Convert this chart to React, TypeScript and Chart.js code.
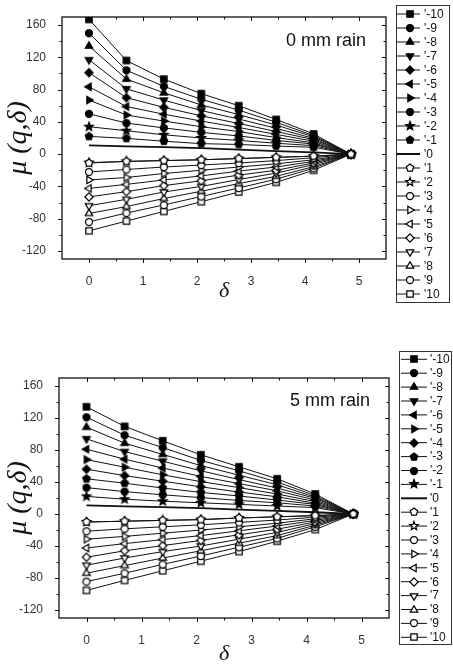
import React, { useEffect, useRef } from 'react';
import { Chart, registerables } from 'chart.js';

Chart.register(...registerables);

// ---------- data ----------
const deltaValues = [0, 0.693, 1.386, 2.079, 2.773, 3.466, 4.159, 4.852];
const xTickValues = [0, 1, 2, 3, 4, 5];
const yTickValues = [-120, -80, -40, 0, 40, 80, 120, 160];
const qLabels = ["'-10", "'-9", "'-8", "'-7", "'-6", "'-5", "'-4", "'-3", "'-2", "'-1", "'0",
  "'1", "'2", "'3", "'4", "'5", "'6", "'7", "'8", "'9", "'10"];
const panelTitles = ['0 mm rain', '5 mm rain'];

// 0 mm rain
const rain0_qm10 = [167, 116, 93, 75, 60, 43, 25, 0];
const rain0_qm9 = [150, 104, 84, 68, 54.5, 39.5, 23, 0];
const rain0_qm8 = [134, 93, 76, 61, 49, 36, 21.5, 0];
const rain0_qm7 = [117, 81, 67, 54, 43.5, 32, 19.5, 0];
const rain0_qm6 = [101, 70, 58, 47.5, 38, 28, 18, 0];
const rain0_qm5 = [83.5, 59, 49.5, 41, 33, 24.5, 16, 0];
const rain0_qm4 = [67, 48.5, 41, 34, 28, 20.5, 14, 0];
const rain0_qm3 = [50, 38.5, 32.5, 27, 22.5, 17, 12.5, 0];
const rain0_qm2 = [34, 29, 24, 20, 17, 13.5, 10.5, 0];
const rain0_qm1 = [22, 19.5, 16, 13, 12, 10, 8.5, 0];
const rain0_q0 = [10.8, 9.7, 8.7, 7.4, 5.5, 3.8, 2.2, 0];
const rain0_q1 = [-11, -9, -8, -7, -5.5, -4, -2.5, 0];
const rain0_q2 = [-10.5, -9, -8, -7, -5.5, -4, -2.5, 0];
const rain0_q3 = [-22, -19, -16, -13.5, -11, -8, -4.5, 0];
const rain0_q4 = [-32, -29, -24, -20, -16, -12, -7, 0];
const rain0_q5 = [-42.5, -37.5, -32, -27, -21, -16, -9, 0];
const rain0_q6 = [-53, -46.5, -39, -33, -26, -20, -11, 0];
const rain0_q7 = [-64, -56, -47, -40, -31.5, -23.5, -13, 0];
const rain0_q8 = [-73.5, -65, -55, -46, -36.5, -27.5, -15.5, 0];
const rain0_q9 = [-84, -73, -63, -52.5, -42, -31, -17.5, 0];
const rain0_q10 = [-95, -83, -71, -59, -47, -35, -20, 0];

// 5 mm rain
const rain5_qm10 = [134, 109.5, 91.5, 74, 59, 44, 25, 0];
const rain5_qm9 = [121, 98.5, 83, 67, 54, 40, 23, 0];
const rain5_qm8 = [108.5, 88.5, 74.5, 60.5, 48.5, 36.5, 21, 0];
const rain5_qm7 = [94, 78, 66, 54, 43, 32.5, 19.5, 0];
const rain5_qm6 = [81, 68.5, 57.5, 47, 38, 29, 17.5, 0];
const rain5_qm5 = [68, 58.5, 49, 40.5, 33, 25, 15.5, 0];
const rain5_qm4 = [56, 48, 41, 34, 27.5, 21.5, 13.5, 0];
const rain5_qm3 = [44, 38.5, 32.5, 27, 22.5, 17.5, 12, 0];
const rain5_qm2 = [33, 28, 24, 20.5, 17, 14, 10, 0];
const rain5_qm1 = [22, 18.5, 16, 14, 12, 10, 8, 0];
const rain5_q0 = [10.8, 9.6, 8.5, 7.3, 5.5, 3.8, 2.2, 0];
const rain5_q1 = [-10, -9, -8, -7, -5, -3.5, -2, 0];
const rain5_q2 = [-10, -9, -8, -7, -5, -3.5, -2, 0];
const rain5_q3 = [-21.5, -18.5, -16, -13.5, -10.5, -7.5, -4, 0];
const rain5_q4 = [-31.5, -28, -24, -20, -16, -11.5, -6, 0];
const rain5_q5 = [-42.5, -37, -32, -27, -21, -15, -8, 0];
const rain5_q6 = [-54, -46, -39.5, -33, -26, -19, -10, 0];
const rain5_q7 = [-64, -55, -47, -40, -31.5, -23, -12, 0];
const rain5_q8 = [-74, -64.5, -55, -46, -36.5, -27, -14, 0];
const rain5_q9 = [-84.5, -74, -63, -52.5, -41.5, -30.5, -16, 0];
const rain5_q10 = [-95.5, -83, -71, -59, -47, -34, -19.5, 0];

const rain0Series = [rain0_qm10, rain0_qm9, rain0_qm8, rain0_qm7, rain0_qm6, rain0_qm5, rain0_qm4,
  rain0_qm3, rain0_qm2, rain0_qm1, rain0_q0, rain0_q1, rain0_q2, rain0_q3, rain0_q4, rain0_q5,
  rain0_q6, rain0_q7, rain0_q8, rain0_q9, rain0_q10];
const rain5Series = [rain5_qm10, rain5_qm9, rain5_qm8, rain5_qm7, rain5_qm6, rain5_qm5, rain5_qm4,
  rain5_qm3, rain5_qm2, rain5_qm1, rain5_q0, rain5_q1, rain5_q2, rain5_q3, rain5_q4, rain5_q5,
  rain5_q6, rain5_q7, rain5_q8, rain5_q9, rain5_q10];

// ---------- styles ----------
const rain0Markers = ['square', 'circle', 'triUp', 'triDown', 'diamond', 'triLeft', 'triRight', 'circle',
  'star', 'pentagon', null, 'pentagon', 'star', 'circle', 'triRight', 'triLeft', 'diamond', 'triDown',
  'triUp', 'circle', 'square'];
const rain5Markers = ['square', 'circle', 'triUp', 'triDown', 'triLeft', 'triRight', 'diamond', 'pentagon',
  'circle', 'star', null, 'pentagon', 'star', 'circle', 'triRight', 'triLeft', 'diamond', 'triDown',
  'triUp', 'circle', 'square'];

const SANS = "'Liberation Sans', Arial, sans-serif";
const SERIF = "'Liberation Serif', 'Times New Roman', serif";
const INK = '#111';

function makeMarker(shape: string, filled: boolean): HTMLCanvasElement {
  const size = 12;
  const c = document.createElement('canvas');
  c.width = size;
  c.height = size;
  const ctx = c.getContext('2d') as CanvasRenderingContext2D;
  const cx = size / 2;
  const cy = size / 2;
  const poly = (n: number, r: number, startDeg: number) => {
    for (let k = 0; k < n; k++) {
      const a = ((startDeg + (k * 360) / n) * Math.PI) / 180;
      const px = cx + r * Math.cos(a);
      const py = cy + r * Math.sin(a);
      if (k === 0) ctx.moveTo(px, py);
      else ctx.lineTo(px, py);
    }
    ctx.closePath();
  };
  ctx.beginPath();
  switch (shape) {
    case 'square':
      ctx.rect(cx - 3.2, cy - 3.2, 6.4, 6.4);
      break;
    case 'circle':
      ctx.arc(cx, cy, 3.5, 0, Math.PI * 2);
      break;
    case 'triUp':
      poly(3, 4.3, -90);
      break;
    case 'triDown':
      poly(3, 4.3, 90);
      break;
    case 'triLeft':
      poly(3, 4.3, 180);
      break;
    case 'triRight':
      poly(3, 4.3, 0);
      break;
    case 'diamond':
      poly(4, 4.1, -90);
      break;
    case 'pentagon':
      poly(5, 3.9, -90);
      break;
    case 'star':
      for (let k = 0; k < 10; k++) {
        const r = k % 2 === 0 ? 4.5 : 1.9;
        const a = ((-90 + k * 36) * Math.PI) / 180;
        const px = cx + r * Math.cos(a);
        const py = cy + r * Math.sin(a);
        if (k === 0) ctx.moveTo(px, py);
        else ctx.lineTo(px, py);
      }
      ctx.closePath();
      break;
  }
  ctx.fillStyle = filled ? '#000' : '#fff';
  ctx.fill();
  ctx.strokeStyle = '#000';
  ctx.lineWidth = 1.25;
  ctx.stroke();
  return c;
}

const framePlugin = {
  id: 'frameTicks',
  afterDraw(chart: any) {
    const { ctx, chartArea } = chart;
    const { left, right, top, bottom } = chartArea;
    const xs = chart.scales.x;
    const ys = chart.scales.y;
    ctx.save();
    ctx.strokeStyle = INK;
    ctx.lineWidth = 1.3;
    ctx.strokeRect(left, top, right - left, bottom - top);
    ctx.lineWidth = 1;
    ctx.beginPath();
    const xMinor = [0.5, 1.5, 2.5, 3.5, 4.5];
    for (const v of xTickValues) {
      const p = Math.round(xs.getPixelForValue(v)) + 0.5;
      ctx.moveTo(p, bottom); ctx.lineTo(p, bottom + 4);
      ctx.moveTo(p, top); ctx.lineTo(p, top + 4);
    }
    for (const v of xMinor) {
      const p = Math.round(xs.getPixelForValue(v)) + 0.5;
      ctx.moveTo(p, bottom); ctx.lineTo(p, bottom + 2.5);
      ctx.moveTo(p, top); ctx.lineTo(p, top + 2.5);
    }
    const yMinor = [-100, -60, -20, 20, 60, 100, 140];
    for (const v of yTickValues) {
      const p = Math.round(ys.getPixelForValue(v)) + 0.5;
      ctx.moveTo(left - 4, p); ctx.lineTo(left, p);
      ctx.moveTo(right - 4, p); ctx.lineTo(right, p);
    }
    for (const v of yMinor) {
      const p = Math.round(ys.getPixelForValue(v)) + 0.5;
      ctx.moveTo(left - 2.5, p); ctx.lineTo(left, p);
      ctx.moveTo(right - 2.5, p); ctx.lineTo(right, p);
    }
    ctx.stroke();
    ctx.restore();
  },
};

const panelTextPlugin = {
  id: 'panelText',
  afterDraw(chart: any, _args: any, opts: any) {
    const { ctx } = chart;
    ctx.save();
    ctx.font = `18px ${SANS}`;
    ctx.fillStyle = INK;
    ctx.textBaseline = 'alphabetic';
    ctx.textAlign = 'left';
    ctx.fillText(opts.text, opts.x, opts.y);
    ctx.restore();
  },
};

const boxLegendPlugin = {
  id: 'boxLegend',
  afterDraw(chart: any, _args: any, o: any) {
    const { ctx } = chart;
    ctx.save();
    ctx.strokeStyle = '#333';
    ctx.lineWidth = 1;
    ctx.strokeRect(o.x + 0.5, o.y + 0.5, o.w, o.h);
    chart.data.datasets.forEach((ds: any, i: number) => {
      const y = o.y0 + i * o.rowH;
      ctx.beginPath();
      ctx.strokeStyle = INK;
      ctx.lineWidth = ds.pointStyle ? 1 : 2;
      ctx.moveTo(o.lineX0, y);
      ctx.lineTo(o.lineX1, y);
      ctx.stroke();
      if (ds.pointStyle) {
        const img = ds.pointStyle as HTMLCanvasElement;
        ctx.drawImage(img, Math.round(o.markerX - img.width / 2), Math.round(y - img.height / 2));
      }
      ctx.fillStyle = INK;
      ctx.font = `12px ${SANS}`;
      ctx.textBaseline = 'middle';
      ctx.textAlign = 'left';
      ctx.fillText(ds.label, o.textX, y + 0.5);
    });
    ctx.restore();
  },
};

type Geom = {
  height: number;
  left: number;
  top: number;
  right: number;
  bottom: number;
  xTitlePad: number;
  yTitlePad: number;
  text: { x: number; y: number };
  legend: any;
};

function RainPanel({ series, markers, title, g }: { series: number[][]; markers: (string | null)[]; title: string; g: Geom }) {
  const ref = useRef<HTMLCanvasElement | null>(null);
  useEffect(() => {
    const datasets = series.map((vals, i) => {
      const q = i - 10;
      const shape = markers[i];
      const img = shape ? makeMarker(shape, q < 0) : false;
      return {
        label: qLabels[i],
        data: deltaValues.map((x, j) => ({ x, y: vals[j] })),
        borderColor: INK,
        backgroundColor: INK,
        borderWidth: q === 0 ? 1.8 : 1,
        pointStyle: img,
        pointRadius: shape ? 4 : 0,
        pointHoverRadius: shape ? 4 : 0,
        order: q > 0 ? 0 : 1,
        fill: false,
        tension: 0,
      };
    });
    const chart = new Chart(ref.current as HTMLCanvasElement, {
      type: 'line',
      data: { datasets } as any,
      options: {
        responsive: false,
        animation: false,
        events: [],
        layout: { padding: { top: g.top, right: 453 - g.right, left: 0, bottom: 0 } },
        scales: {
          x: {
            type: 'linear',
            min: -0.5,
            max: 5.5,
            afterBuildTicks: (ax: any) => {
              ax.ticks = xTickValues.map((v) => ({ value: v }));
            },
            afterFit: (ax: any) => {
              ax.height = g.height - g.bottom;
            },
            grid: { display: false },
            border: { display: false },
            ticks: { font: { family: SANS, size: 12 }, color: '#333', padding: 7, maxRotation: 0, autoSkip: false },
            title: {
              display: true,
              text: 'δ',
              font: { family: SERIF, size: 22, style: 'italic' },
              color: INK,
              padding: { top: 0, bottom: g.xTitlePad },
            },
          },
          y: {
            type: 'linear',
            min: -130,
            max: 170,
            afterBuildTicks: (ax: any) => {
              ax.ticks = yTickValues.map((v) => ({ value: v }));
            },
            afterFit: (ax: any) => {
              ax.width = g.left;
            },
            grid: { display: false },
            border: { display: false },
            ticks: { font: { family: SANS, size: 12 }, color: '#333', padding: 8, autoSkip: false },
            title: {
              display: true,
              text: 'μ (q,δ)',
              font: { family: SERIF, size: 28, style: 'italic' },
              color: INK,
              padding: { top: g.yTitlePad, bottom: 0 },
            },
          },
        },
        plugins: {
          legend: { display: false },
          tooltip: { enabled: false },
          panelText: { text: title, x: g.text.x, y: g.text.y },
          boxLegend: g.legend,
        } as any,
      },
      plugins: [framePlugin, panelTextPlugin, boxLegendPlugin],
    } as any);
    return () => chart.destroy();
  }, []);
  return <canvas ref={ref} width={453} height={g.height} style={{ display: 'block', width: 453, height: g.height }} />;
}

const topGeom: Geom = {
  height: 330,
  left: 62,
  top: 17,
  right: 386,
  bottom: 259,
  xTitlePad: 26,
  yTitlePad: 2,
  text: { x: 286, y: 46 },
  legend: { x: 396, y: 5, w: 53, h: 297, y0: 14, rowH: 14, lineX0: 397, lineX1: 420, markerX: 410, textX: 424 },
};

const bottomGeom: Geom = {
  height: 337,
  left: 59,
  top: 48,
  right: 389,
  bottom: 288,
  xTitlePad: 0,
  yTitlePad: 2,
  text: { x: 290, y: 76 },
  legend: { x: 399, y: 21, w: 52, h: 293, y0: 29.3, rowH: 13.9, lineX0: 401, lineX1: 427, markerX: 414, textX: 430 },
};

export default function App() {
  return (
    <div style={{ position: 'absolute', left: 0, top: 0, width: 453, height: 667, background: '#fff' }}>
      <RainPanel series={rain0Series} markers={rain0Markers} title={panelTitles[0]} g={topGeom} />
      <RainPanel series={rain5Series} markers={rain5Markers} title={panelTitles[1]} g={bottomGeom} />
    </div>
  );
}
